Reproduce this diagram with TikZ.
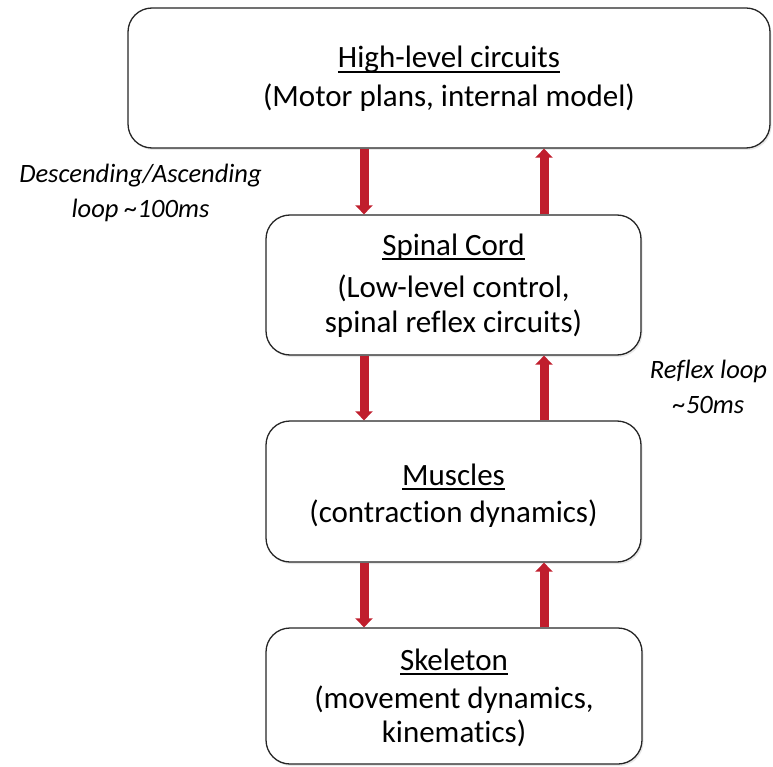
\documentclass[tikz,border=0pt]{standalone}
\usepackage{fontspec}
\setmainfont{Carlito}[Ligatures=NoCommon]
\usetikzlibrary{arrows.meta,shadows}
\definecolor{arrowred}{RGB}{192,30,45}
\newcommand\ulline[1]{\setbox0\hbox{#1}\rlap{\rule[-5pt]{\wd0}{1.6pt}}\box0}
\begin{document}
\begin{tikzpicture}[x=1pt,y=-1pt,
  box/.style={draw=black!85, line width=1.3pt, rounded corners=24pt, fill=white, inner sep=0pt,
    drop shadow={opacity=0.18, shadow xshift=1.5pt, shadow yshift=-2pt}},
  txt/.style={anchor=base, inner sep=0pt, font=\fontsize{31}{37}\selectfont},
  lbl/.style={anchor=base, inner sep=0pt, font=\fontsize{26.5}{32}\selectfont\itshape},
  flow/.style={draw=arrowred, line width=9pt, -{Triangle[width=17pt,length=9pt,fill=arrowred]}}]
\useasboundingbox (0,0) rectangle (773,767);
% boxes
\node[box, minimum width=642pt, minimum height=140pt] (high) at (449,78) {};
\node[box, minimum width=375pt, minimum height=140pt] (spinal) at (453.5,285) {};
\node[box, minimum width=375pt, minimum height=141pt] (muscles) at (453.5,491.5) {};
\node[box, minimum width=376pt, minimum height=136pt] (skel) at (454,696) {};
% arrow columns
\coordinate (xl) at (364,0);
\coordinate (xr) at (544,0);
\draw[flow] (xl |- high.south) -- (xl |- spinal.north);
\draw[flow] (xr |- spinal.north) -- (xr |- high.south);
\draw[flow] (xl |- spinal.south) -- (xl |- muscles.north);
\draw[flow] (xr |- muscles.north) -- (xr |- spinal.south);
\draw[flow] (xl |- muscles.south) -- (xl |- skel.north);
\draw[flow] (xr |- skel.north) -- (xr |- muscles.south);
% texts
\node[txt] (t1a) at (449,68) {\ulline{High-level circuits}};
\node[txt] (t1b) at (449,107) {(Motor plans, internal model)};
\node[txt] (t2a) at (453.5,255) {\ulline{Spinal Cord}};
\node[txt] (t2b) at (453.5,297) {(Low-level control,};
\node[txt] (t2c) at (453.5,332) {spinal reflex circuits)};
\node[txt] (t3a) at (453.5,485) {\ulline{Muscles}};
\node[txt] (t3b) at (453.5,522) {(contraction dynamics)};
\node[txt] (t4a) at (454,670) {\ulline{Skeleton}};
\node[txt] (t4b) at (454,708) {(movement dynamics,};
\node[txt] (t4c) at (454,742) {kinematics)};
% loop labels
\node[lbl] (l1a) at (140.5,183) {Descending/Ascending};
\node[lbl] (l1b) at (140.5,218) {loop \textasciitilde100ms};
\node[lbl] (l2a) at (708.5,378) {Reflex loop};
\node[lbl] (l2b) at (708.5,413) {\textasciitilde50ms};
\end{tikzpicture}
\end{document}
